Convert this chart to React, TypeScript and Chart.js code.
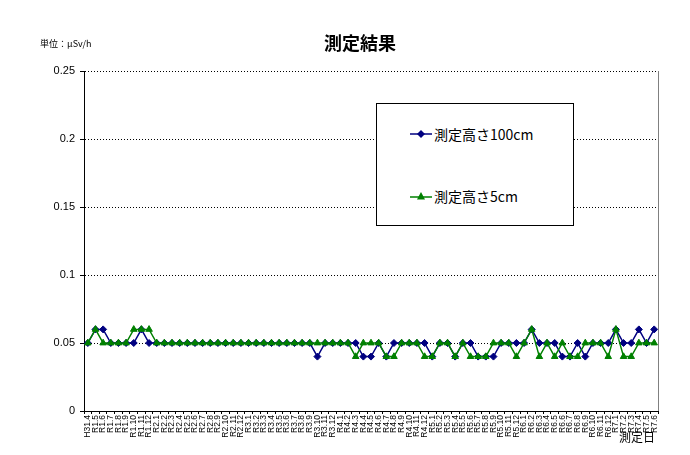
import React, { useEffect, useRef } from 'react';
import { Chart, registerables } from 'chart.js';

Chart.register(...registerables);

// 測定日 (x軸)
const labels = [
  'H31.4', 'R1.5', 'R1.6', 'R1.7', 'R1.8', 'R1.9', 'R1.10', 'R1.11', 'R1.12',
  'R2.1', 'R2.2', 'R2.3', 'R2.4', 'R2.5', 'R2.6', 'R2.7', 'R2.8', 'R2.9', 'R2.10', 'R2.11', 'R2.12',
  'R3.1', 'R3.2', 'R3.3', 'R3.4', 'R3.5', 'R3.6', 'R3.7', 'R3.8', 'R3.9', 'R3.10', 'R3.11', 'R3.12',
  'R4.1', 'R4.2', 'R4.3', 'R4.4', 'R4.5', 'R4.6', 'R4.7', 'R4.8', 'R4.9', 'R4.10', 'R4.11', 'R4.12',
  'R5.1', 'R5.2', 'R5.3', 'R5.4', 'R5.5', 'R5.6', 'R5.7', 'R5.8', 'R5.9', 'R5.10', 'R5.11', 'R5.12',
  'R6.1', 'R6.2', 'R6.3', 'R6.4', 'R6.5', 'R6.6', 'R6.7', 'R6.8', 'R6.9', 'R6.10', 'R6.11', 'R6.12',
  'R7.1', 'R7.2', 'R7.3', 'R7.4', 'R7.5', 'R7.6',
];

// 測定高さ100cm
const h100 = [
  0.05, 0.06, 0.06, 0.05, 0.05, 0.05, 0.05, 0.06, 0.05,
  0.05, 0.05, 0.05, 0.05, 0.05, 0.05, 0.05, 0.05, 0.05, 0.05, 0.05, 0.05,
  0.05, 0.05, 0.05, 0.05, 0.05, 0.05, 0.05, 0.05, 0.05, 0.04, 0.05, 0.05,
  0.05, 0.05, 0.05, 0.04, 0.04, 0.05, 0.04, 0.05, 0.05, 0.05, 0.05, 0.05,
  0.04, 0.05, 0.05, 0.04, 0.05, 0.05, 0.04, 0.04, 0.04, 0.05, 0.05, 0.05,
  0.05, 0.06, 0.05, 0.05, 0.05, 0.04, 0.04, 0.05, 0.04, 0.05, 0.05, 0.05,
  0.06, 0.05, 0.05, 0.06, 0.05, 0.06,
];

// 測定高さ5cm
const h5 = [
  0.05, 0.06, 0.05, 0.05, 0.05, 0.05, 0.06, 0.06, 0.06,
  0.05, 0.05, 0.05, 0.05, 0.05, 0.05, 0.05, 0.05, 0.05, 0.05, 0.05, 0.05,
  0.05, 0.05, 0.05, 0.05, 0.05, 0.05, 0.05, 0.05, 0.05, 0.05, 0.05, 0.05,
  0.05, 0.05, 0.04, 0.05, 0.05, 0.05, 0.04, 0.04, 0.05, 0.05, 0.05, 0.04,
  0.04, 0.05, 0.05, 0.04, 0.05, 0.04, 0.04, 0.04, 0.05, 0.05, 0.05, 0.04,
  0.05, 0.06, 0.04, 0.05, 0.04, 0.05, 0.04, 0.04, 0.05, 0.05, 0.05, 0.04,
  0.06, 0.04, 0.04, 0.05, 0.05, 0.05,
];

const BLUE = '#000080';
const GREEN = '#008000';
const FONT = "'Liberation Sans', Arial, 'Noto Sans CJK JP', sans-serif";
const JP_FONT = "'Noto Sans CJK JP', 'Liberation Sans', sans-serif";

// plot area right border (grey)
const plotBorder = {
  id: 'plotBorder',
  afterDraw(chart: Chart) {
    const { ctx, chartArea } = chart;
    ctx.save();
    ctx.strokeStyle = '#808080';
    ctx.lineWidth = 1;
    ctx.beginPath();
    ctx.moveTo(chartArea.right + 0.5, chartArea.top);
    ctx.lineTo(chartArea.right + 0.5, chartArea.bottom);
    ctx.stroke();
    ctx.restore();
  },
};

const App: React.FC = () => {
  const canvasRef = useRef<HTMLCanvasElement | null>(null);

  useEffect(() => {
    if (!canvasRef.current) return;
    const chart = new Chart(canvasRef.current, {
      type: 'line',
      data: {
        labels,
        datasets: [
          {
            label: '測定高さ100cm',
            data: h100,
            borderColor: BLUE,
            backgroundColor: BLUE,
            borderWidth: 1.5,
            pointStyle: 'rectRot',
            pointRadius: 3.5,
            pointBorderWidth: 1,
            tension: 0,
            // drawn below the 5cm series
            order: 1,
          },
          {
            label: '測定高さ5cm',
            data: h5,
            borderColor: GREEN,
            backgroundColor: GREEN,
            borderWidth: 1.5,
            pointStyle: 'triangle',
            pointRadius: 3.8,
            pointBorderWidth: 1,
            tension: 0,
            order: 0,
          },
        ],
      },
      options: {
        responsive: true,
        maintainAspectRatio: false,
        animation: false,
        layout: { padding: { left: 0, top: 71, right: 32, bottom: 0 } },
        plugins: {
          legend: { display: false },
          title: { display: false },
          tooltip: { enabled: false },
        },
        scales: {
          x: {
            offset: true,
            grid: {
              display: true,
              drawOnChartArea: false,
              drawTicks: true,
              tickLength: 3,
              color: '#000',
              offset: true,
            },
            border: { color: '#000', width: 1 },
            ticks: {
              autoSkip: false,
              maxRotation: 90,
              minRotation: 90,
              padding: 1,
              color: '#000',
              font: { family: FONT, size: 8.5 },
            },
            afterFit: (scale: any) => {
              scale.height = 44;
            },
          },
          y: {
            min: 0,
            max: 0.25,
            grid: {
              color: '#000',
              lineWidth: 1,
              tickLength: 4,
              tickBorderDash: [],
            },
            border: { color: '#000', width: 1, dash: [1, 2] },
            ticks: {
              stepSize: 0.05,
              padding: 5,
              color: '#000',
              font: { family: FONT, size: 11 },
              callback: (value: any) => String(Number(Number(value).toFixed(2))),
            },
            afterFit: (scale: any) => {
              scale.width = 84;
            },
          },
        },
      },
      plugins: [plotBorder],
    });
    return () => {
      chart.destroy();
    };
  }, []);

  return (
    <div style={{ position: 'fixed', left: 0, top: 0, width: 690, height: 455, background: '#fff', fontFamily: FONT }}>
      <canvas ref={canvasRef} style={{ width: '100%', height: '100%' }} />
      <div style={{ position: 'absolute', left: 0, width: 720, top: 30, textAlign: 'center', fontFamily: JP_FONT, fontWeight: 'bold', fontSize: 18, color: '#000', lineHeight: '24px' }}>
        測定結果
      </div>
      <div style={{ position: 'absolute', left: 40, top: 38, fontFamily: JP_FONT, fontSize: 9, color: '#000', lineHeight: '12px' }}>
        単位：μSv/h
      </div>
      <div style={{ position: 'absolute', left: 619, top: 430, fontFamily: JP_FONT, fontSize: 12, color: '#000', lineHeight: '14px' }}>
        測定日
      </div>
      <div style={{ position: 'absolute', left: 376, top: 103, width: 196, height: 121, border: '1px solid #000', background: '#fff', fontFamily: JP_FONT, fontSize: 14, color: '#000' }}>
        <div style={{ position: 'absolute', left: 33, top: 20, display: 'flex', alignItems: 'center', whiteSpace: 'nowrap' }}>
          <svg width="22" height="10" style={{ marginRight: 2 }}>
            <line x1="0" y1="5" x2="22" y2="5" stroke={BLUE} strokeWidth="1.5" />
            <polygon points="11,1 15,5 11,9 7,5" fill={BLUE} />
          </svg>
          <span>測定高さ100cm</span>
        </div>
        <div style={{ position: 'absolute', left: 33, top: 82, display: 'flex', alignItems: 'center', whiteSpace: 'nowrap' }}>
          <svg width="22" height="10" style={{ marginRight: 2 }}>
            <line x1="0" y1="6" x2="22" y2="6" stroke={GREEN} strokeWidth="1.5" />
            <polygon points="11,1 15,8.5 7,8.5" fill={GREEN} />
          </svg>
          <span>測定高さ5cm</span>
        </div>
      </div>
    </div>
  );
};

export default App;
